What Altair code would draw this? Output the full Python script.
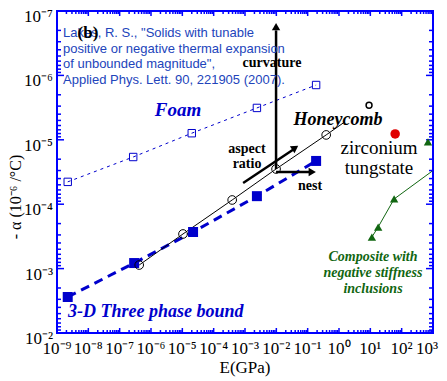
import altair as alt
import pandas as pd

# ---------------- data ----------------
x_exponents = list(range(-9, 4))
x_tick_labels = ["10⁻⁹", "10⁻⁸", "10⁻⁷", "10⁻⁶", "10⁻⁵", "10⁻⁴", "10⁻³",
                 "10⁻²", "10⁻¹", "10⁰", "10¹", "10²", "10³"]
y_exponents = list(range(-7, -1))
y_tick_labels = ["10⁻⁷", "10⁻⁶", "10⁻⁵", "10⁻⁴", "10⁻³", "10⁻²"]

foam_E = [2.2e-9, 2.7e-7, 2.0e-5, 2.4e-3, 0.186]
foam_a = [4.5e-5, 1.85e-5, 7.9e-6, 3.2e-6, 1.41e-6]

bound_E = [2.2e-9, 2.9e-7, 2.2e-5, 2.4e-3, 0.186]
bound_a = [2.76e-3, 8.2e-4, 2.7e-4, 7.5e-5, 2.13e-5]

honey_E = [4.2e-7, 1.05e-5, 3.9e-4, 9.8e-3, 0.39]
honey_a = [8.8e-4, 2.9e-4, 8.6e-5, 2.84e-5, 8.4e-6]
honey_line_E = [4.2e-7, 1.05e-5, 3.9e-4, 9.8e-3, 0.39, 1.55]
honey_line_a = [8.8e-4, 2.9e-4, 8.6e-5, 2.84e-5, 8.4e-6, 5.25e-6]
honey_extra_E = [9.1]
honey_extra_a = [2.9e-6]

zrw_E = [62.0]
zrw_a = [8.1e-6]

comp_E = [11.2, 17.8, 57.5, 692.0]
comp_a = [3.24e-4, 2.26e-4, 8.3e-5, 1.08e-5]
comp_line_E = [11.2, 17.8, 57.5, 1000.0]
comp_line_a = [3.24e-4, 2.26e-4, 8.3e-5, 3.0e-5]

# arrows (start, end in data units) and arrow heads
arrow_id = ["curv", "curv", "nest", "nest", "asp", "asp"]
arrow_E = [9.8e-3, 9.8e-3, 9.8e-3, 0.125, 8.7e-4, 0.036]
arrow_a = [2.84e-5, 2.0e-7, 3.16e-5, 3.16e-5, 4.7e-5, 1.4e-5]
head_E = [9.8e-3, 0.14, 0.040]
head_a = [1.75e-7, 3.16e-5, 1.33e-5]
head_ang = [0, 90, 56]

# ---------------- helpers ----------------
W, H = 376, 322
AXC = "#0000ff"
BLUE = "#0000cc"
GREEN = "#116611"
SERIF = "Liberation Serif"

xs = alt.Scale(type="log", domain=[1e-9, 1e3], nice=False)
ys = alt.Scale(type="log", domain=[1e-7, 1e-2], nice=False, reverse=True)


def X():
    return alt.X("E:Q", scale=xs, axis=None)


def Y():
    return alt.Y("a:Q", scale=ys, axis=None)


def df(E, a, **extra):
    d = pd.DataFrame({"E": E, "a": a})
    for k, v in extra.items():
        d[k] = v
    return d


layers = []

# series lines
layers.append(alt.Chart(df(foam_E, foam_a)).mark_line(
    color=BLUE, strokeWidth=1, strokeDash=[3, 4]).encode(x=X(), y=Y()))
layers.append(alt.Chart(df(bound_E, bound_a)).mark_line(
    color=BLUE, strokeWidth=3, strokeDash=[9, 6]).encode(x=X(), y=Y()))
layers.append(alt.Chart(df(honey_line_E, honey_line_a)).mark_line(
    color="black", strokeWidth=1).encode(x=X(), y=Y()))
layers.append(alt.Chart(df(comp_line_E, comp_line_a)).mark_line(
    color=GREEN, strokeWidth=1).encode(x=X(), y=Y()))

# tick marks (inward, on all four sides)
major_x = [10.0 ** e for e in x_exponents]
minor_x = [m * 10.0 ** e for e in x_exponents[:-1] for m in range(2, 10)]
major_y = [10.0 ** e for e in y_exponents]
minor_y = [m * 10.0 ** e for e in y_exponents[:-1] for m in range(2, 10)]

for vals, ln in ((major_x, 5), (minor_x, 3)):
    d = pd.DataFrame({"E": vals})
    layers.append(alt.Chart(d).mark_rule(color=AXC, strokeWidth=1.5).encode(
        x=X(), y=alt.value(H), y2=alt.value(H - ln)))
    layers.append(alt.Chart(d).mark_rule(color=AXC, strokeWidth=1.5).encode(
        x=X(), y=alt.value(0), y2=alt.value(ln)))
for vals, ln in ((major_y, 7), (minor_y, 4)):
    d = pd.DataFrame({"a": vals})
    layers.append(alt.Chart(d).mark_rule(color=AXC, strokeWidth=1.5).encode(
        y=Y(), x=alt.value(0), x2=alt.value(ln)))
    layers.append(alt.Chart(d).mark_rule(color=AXC, strokeWidth=1.5).encode(
        y=Y(), x=alt.value(W), x2=alt.value(W - ln)))

# tick labels (placed through the scales); the last x label is nudged left
xlab = pd.DataFrame({"E": major_x, "lab": x_tick_labels})
layers.append(alt.Chart(xlab.iloc[:-1]).mark_text(
    font=SERIF, fontSize=17, color="black", baseline="middle", align="center").encode(
    x=X(), y=alt.value(H + 16), text="lab:N"))
layers.append(alt.Chart(xlab.iloc[-1:]).mark_text(
    font=SERIF, fontSize=17, color="black", baseline="middle", align="center", dx=-6).encode(
    x=X(), y=alt.value(H + 16), text="lab:N"))
layers.append(alt.Chart(pd.DataFrame({"a": major_y, "lab": y_tick_labels})).mark_text(
    font=SERIF, fontSize=17, color="black", baseline="middle", align="right", dy=6).encode(
    y=Y(), x=alt.value(-4), text="lab:N"))

# arrows
layers.append(alt.Chart(df(arrow_E, arrow_a, id=arrow_id)).mark_line(
    color="black", strokeWidth=2.5).encode(x=X(), y=Y(), detail="id:N"))
layers.append(alt.Chart(df(head_E, head_a, ang=head_ang)).mark_point(
    shape="triangle-up", filled=True, color="black", size=70, opacity=1).encode(
    x=X(), y=Y(), angle=alt.Angle("ang:Q", scale=None)))

# series points
layers.append(alt.Chart(df(foam_E, foam_a)).mark_point(
    shape="square", filled=False, color=BLUE, size=55, strokeWidth=1, opacity=1).encode(x=X(), y=Y()))
layers.append(alt.Chart(df(bound_E, bound_a)).mark_point(
    shape="square", filled=True, color=BLUE, size=100, opacity=1).encode(x=X(), y=Y()))
layers.append(alt.Chart(df(honey_E, honey_a)).mark_point(
    shape="circle", filled=False, color="black", size=75, strokeWidth=1, opacity=1).encode(x=X(), y=Y()))
layers.append(alt.Chart(df(honey_extra_E, honey_extra_a)).mark_point(
    shape="circle", filled=False, color="black", size=35, strokeWidth=1.5, opacity=1).encode(x=X(), y=Y()))
layers.append(alt.Chart(df(zrw_E, zrw_a)).mark_point(
    shape="circle", filled=True, color="#e00000", size=90, opacity=1).encode(x=X(), y=Y()))
layers.append(alt.Chart(df(comp_E, comp_a)).mark_point(
    shape="triangle-up", filled=True, color=GREEN, size=70, opacity=1).encode(x=X(), y=Y()))

# annotations (pixel positions in the plot area)
one = alt.Data(values=[{}])


def txt(text, x, y, **kw):
    return alt.Chart(one).mark_text(text=text, x=x, y=y, **kw)


layers.append(txt("E(GPa)", W / 2, H + 35, font=SERIF, fontSize=17, color="black",
                  baseline="middle"))
layers.append(txt("- α (10⁻⁶ /°C)", -41, 186, angle=270, font=SERIF, fontSize=16,
                  color="black", baseline="middle"))
layers.append(txt(["Lakes, R. S., \"Solids with tunable",
                   "positive or negative thermal expansion",
                   "of unbounded magnitude\",",
                   "Applied Phys. Lett.  90, 221905 (2007)."],
                  6, 22, align="left", baseline="middle", font="Liberation Sans",
                  fontSize=13, lineHeight=15.7, color="#2244bb"))
layers.append(txt("(b)", 31, 22, font=SERIF, fontSize=17, fontWeight="bold",
                  color="black", baseline="middle"))
layers.append(txt("Foam", 121, 99, font=SERIF, fontSize=19, fontWeight="bold",
                  fontStyle="italic", color=BLUE, baseline="middle"))
layers.append(txt("Honeycomb", 281, 109, font=SERIF, fontSize=18, fontWeight="bold",
                  fontStyle="italic", color="black", baseline="middle"))
layers.append(txt("curvature", 215, 52, font=SERIF, fontSize=14, fontWeight="bold",
                  color="black", baseline="middle"))
layers.append(txt(["aspect", "ratio"], 190, 138, font=SERIF, fontSize=14,
                  fontWeight="bold", color="black", baseline="middle", lineHeight=15))
layers.append(txt("nest", 253, 175, font=SERIF, fontSize=14, fontWeight="bold",
                  color="black", baseline="middle"))
layers.append(txt(["zirconium", "tungstate"], 322, 137, font=SERIF, fontSize=19,
                  color="black", baseline="middle", lineHeight=20))
layers.append(txt(["Composite with", "negative stiffness", "inclusions"], 316, 246,
                  font=SERIF, fontSize=14, fontWeight="bold", fontStyle="italic",
                  color=GREEN, baseline="middle", lineHeight=16))
layers.append(txt("3-D Three phase bound", 11, 301, align="left", font=SERIF,
                  fontSize=18, fontWeight="bold", fontStyle="italic", color=BLUE,
                  baseline="middle"))

chart = alt.layer(*layers).properties(
    width=W, height=H,
    autosize=alt.AutoSizeParams(type="none"),
    padding={"left": 49, "top": 3, "right": 6, "bottom": 46},
    background="white",
).configure_view(stroke=AXC, strokeWidth=2)

chart.save("out.html", embed_options={"renderer": "svg", "actions": False})
